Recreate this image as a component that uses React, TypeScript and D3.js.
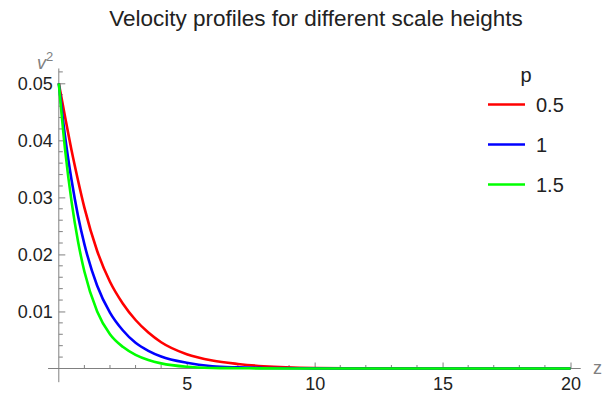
import React, { useEffect, useRef } from 'react'
import * as d3 from 'd3'

// z samples and v^2
const zValues = [0, 0.25, 0.5, 0.75, 1, 1.5, 2, 2.5, 3, 3.5, 4, 5, 6, 7, 8, 10, 12, 15, 20]
const redValues = [0.05, 0.044, 0.0382, 0.033, 0.0282, 0.0206, 0.0152, 0.0114, 0.0085, 0.0063, 0.0046, 0.0025, 0.0014, 0.0008, 0.0004, 0.0001, 0.00004, 0, 0]
const blueValues = [0.05, 0.0405, 0.033, 0.0268, 0.0218, 0.0145, 0.0098, 0.0067, 0.0045, 0.0031, 0.0021, 0.001, 0.0004, 0.0002, 0.0001, 0.00002, 0, 0, 0]
const greenValues = [0.05, 0.0382, 0.0292, 0.0223, 0.017, 0.01, 0.006, 0.0038, 0.0024, 0.0015, 0.0009, 0.0003, 0.0001, 0.00005, 0.00002, 0, 0, 0, 0]

const seriesNames = ['0.5', '1', '1.5']
const seriesColors = ['#ff0000', '#0000ff', '#00ff00']
const seriesValues = [redValues, blueValues, greenValues]

const xTicks = [5, 10, 15, 20]
const yTicks = [0.01, 0.02, 0.03, 0.04, 0.05]

const FONT = '"Liberation Sans", Arial, sans-serif'
const AXIS = '#808080'
const TEXT = '#222'

export default function App() {
  const svgRef = useRef<SVGSVGElement>(null)

  useEffect(() => {
    document.body.style.margin = '0'
    const svg = d3.select(svgRef.current)
    svg.selectAll('*').remove()

    const x = d3.scaleLinear().domain([0, 20]).range([58.8, 570.5])
    const y = d3.scaleLinear().domain([0, 0.05]).range([368.5, 83.3])

    // title
    svg
      .append('text')
      .attr('x', 316)
      .attr('y', 26)
      .attr('text-anchor', 'middle')
      .attr('font-family', FONT)
      .attr('font-size', 22.5)
      .attr('fill', TEXT)
      .text('Velocity profiles for different scale heights')

    // x axis (ticks pointing up, like Mathematica)
    const xMinor = d3.range(1, 21).filter((d) => d % 5 !== 0)
    const gx = svg.append('g').attr('transform', `translate(0,${y(0)})`)
    gx.append('line')
      .attr('x1', x(-0.42))
      .attr('x2', x(20.4))
      .attr('stroke', AXIS)
      .attr('stroke-width', 1)
    gx.selectAll('.minor')
      .data(xMinor)
      .enter()
      .append('line')
      .attr('x1', (d) => x(d))
      .attr('x2', (d) => x(d))
      .attr('y1', 0)
      .attr('y2', -3.5)
      .attr('stroke', AXIS)
    const xAxis = d3
      .axisBottom(x)
      .tickValues(xTicks)
      .tickSizeInner(-6)
      .tickSizeOuter(0)
      .tickPadding(9)
      .tickFormat(d3.format('d'))
    const gxa = svg.append('g').attr('transform', `translate(0,${y(0)})`).call(xAxis)
    gxa.select('.domain').remove()
    gxa.selectAll('.tick line').attr('stroke', AXIS)
    gxa.selectAll('.tick text')
      .attr('font-family', FONT)
      .attr('font-size', 18)
      .attr('fill', TEXT)

    // y axis (ticks pointing right)
    const yMinor = d3.range(1, 27).map((d) => d * 0.002).filter((d, i) => (i + 1) % 5 !== 0)
    const gy = svg.append('g').attr('transform', `translate(${x(0)},0)`)
    gy.append('line')
      .attr('y1', y(-0.0024))
      .attr('y2', y(0.0526))
      .attr('stroke', AXIS)
      .attr('stroke-width', 1)
    gy.selectAll('.minor')
      .data(yMinor)
      .enter()
      .append('line')
      .attr('y1', (d) => y(d))
      .attr('y2', (d) => y(d))
      .attr('x1', 0)
      .attr('x2', 4)
      .attr('stroke', AXIS)
    const yAxis = d3
      .axisLeft(y)
      .tickValues(yTicks)
      .tickSizeInner(-6.5)
      .tickSizeOuter(0)
      .tickPadding(6)
      .tickFormat(d3.format('.2f'))
    const gya = svg.append('g').attr('transform', `translate(${x(0)},0)`).call(yAxis)
    gya.select('.domain').remove()
    gya.selectAll('.tick line').attr('stroke', AXIS)
    gya.selectAll('.tick text')
      .attr('font-family', FONT)
      .attr('font-size', 18)
      .attr('fill', TEXT)

    // axis labels
    const v2 = svg
      .append('text')
      .attr('x', 37)
      .attr('y', 69)
      .attr('font-family', FONT)
      .attr('font-size', 18)
      .attr('font-style', 'italic')
      .attr('fill', AXIS)
    v2.append('tspan').text('v')
    v2.append('tspan').attr('dy', -8).attr('font-size', 13).attr('font-style', 'normal').text('2')
    svg
      .append('text')
      .attr('x', 593)
      .attr('y', 374)
      .attr('font-family', FONT)
      .attr('font-size', 18)
      .attr('fill', AXIS)
      .text('z')

    // curves
    const line = d3
      .line<number>()
      .x((_, i) => x(zValues[i]))
      .y((d) => y(d))
      .curve(d3.curveMonotoneX)
    seriesValues.forEach((vals, k) => {
      svg
        .append('path')
        .datum(vals)
        .attr('d', line)
        .attr('fill', 'none')
        .attr('stroke', seriesColors[k])
        .attr('stroke-width', 2.6)
    })

    // legend
    svg
      .append('text')
      .attr('x', 526)
      .attr('y', 82)
      .attr('text-anchor', 'middle')
      .attr('font-family', FONT)
      .attr('font-size', 20)
      .attr('fill', TEXT)
      .text('p')
    seriesNames.forEach((name, k) => {
      const ly = 104.5 + k * 40
      svg
        .append('line')
        .attr('x1', 488)
        .attr('x2', 525)
        .attr('y1', ly)
        .attr('y2', ly)
        .attr('stroke', seriesColors[k])
        .attr('stroke-width', 2.6)
      svg
        .append('text')
        .attr('x', 536)
        .attr('y', ly + 7)
        .attr('font-family', FONT)
        .attr('font-size', 20)
        .attr('fill', TEXT)
        .text(name)
    })
  }, [])

  return <svg ref={svgRef} width="606" height="396" style={{ display: 'block' }}></svg>
}
